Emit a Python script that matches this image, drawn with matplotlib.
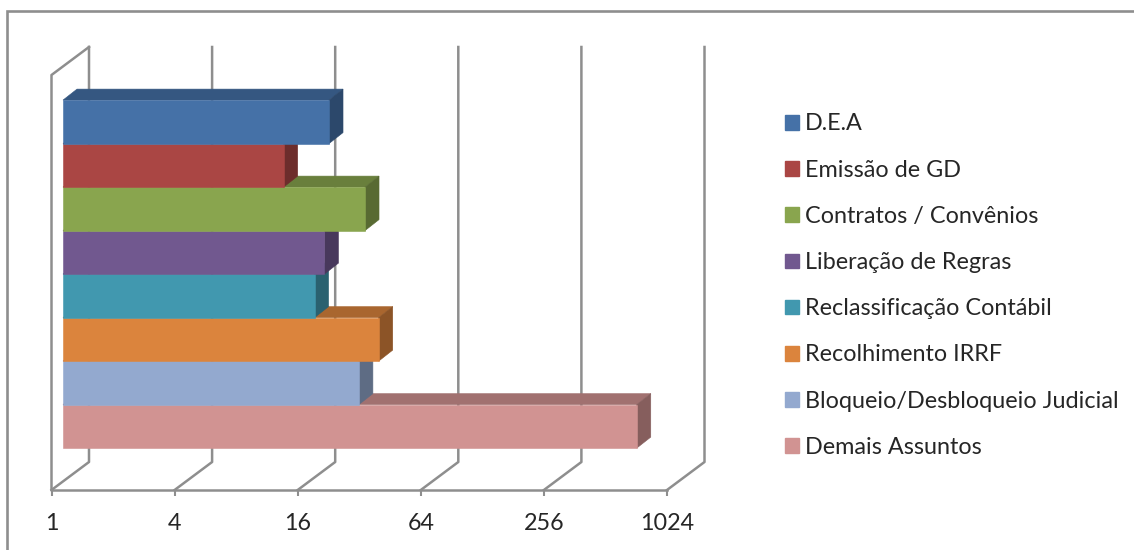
import matplotlib
matplotlib.use("Agg")
import matplotlib.pyplot as plt
from matplotlib.patches import Polygon, Patch, Rectangle
from matplotlib.lines import Line2D
from matplotlib.transforms import IdentityTransform
from matplotlib.colors import to_rgb

labels = ["D.E.A", "Emissão de GD", "Contratos / Convênios", "Liberação de Regras",
          "Reclassificação Contábil", "Recolhimento IRRF",
          "Bloqueio/Desbloqueio Judicial", "Demais Assuntos"]
values = [20, 12, 30, 19, 17, 35, 28, 640]
colors = ["#4571A7", "#AA4644", "#89A54E", "#71588F", "#4198AF", "#DB843D", "#93A9CF", "#D19392"]
ticks = [1, 4, 16, 64, 256, 1024]

W, H = 1134, 550
fig = plt.figure(figsize=(W / 100, H / 100), dpi=100, facecolor="white")
plt.rcParams["font.family"] = "Lato"
GRAY = "#8E8E8E"
TEXT = "#262626"

# front plane of the 3-D box, in pixels
L, R, T, B = 51.5, 667.0, 75.0, 490.0
ax = fig.add_axes([L / W, 1 - B / H, (R - L) / W, (B - T) / H])
ax.set_xscale("log", base=2)
ax.set_xlim(1, 1024)
ax.set_ylim(8.27, -1.27)
ax.patch.set_alpha(0)
for s in ["top", "right", "left"]:
    ax.spines[s].set_visible(False)
ax.spines["bottom"].set_color(GRAY)
ax.spines["bottom"].set_linewidth(1.8)
ax.set_xticks(ticks)
ax.set_xticklabels([str(t) for t in ticks], fontsize=16.8, color=TEXT)
ax.minorticks_off()
ax.tick_params(axis="x", length=4.5, width=1.5, color=GRAY, pad=12.2)
ax.set_yticks([])

px = IdentityTransform()
def to_px(x, y):
    return ax.transData.transform((x, y))

def seg(pts, lw=1.8, color=GRAY, z=1):
    xs, ys = zip(*pts)
    fig.add_artist(Line2D(xs, ys, transform=px, color=color, lw=lw, zorder=z,
                          solid_capstyle="projecting"))

# chart frame
fig.add_artist(Rectangle((7, -10), W + 20, H + 10 - 11, transform=px, fill=False,
                         edgecolor=GRAY, lw=1.9, zorder=0))

# walls and floor
BX, BY = 37.5, 28.0
ylo, yhi = ax.get_ylim()
for t in ticks:
    fb = to_px(t, ylo)
    back = (fb[0] + BX, fb[1] + BY)
    backtop = (back[0], to_px(t, yhi)[1] + BY)
    seg([fb, back, backtop])
fl, ft = to_px(1, ylo), to_px(1, yhi)
seg([fl, ft, (ft[0] + BX, ft[1] + BY)])

# bars: front face offset into the box, then depth faces
OX, OY = 11.5, 8.4
DX, DY = 14.0, 11.0
def shade(c, f):
    return tuple(v * f for v in to_rgb(c))

for i in range(len(values) - 1, -1, -1):
    v, c = values[i], colors[i]
    x0, yb = to_px(1, i + 0.5)
    x1, yt = to_px(v, i - 0.5)
    x0 += OX; x1 += OX; yb += OY; yt += OY
    faces = [
        ([(x0, yt), (x1, yt), (x1 + DX, yt + DY), (x0 + DX, yt + DY)], shade(c, 0.77)),
        ([(x1, yb), (x1 + DX, yb + DY), (x1 + DX, yt + DY), (x1, yt)], shade(c, 0.64)),
        ([(x0, yb), (x1, yb), (x1, yt), (x0, yt)], c),
    ]
    for pts, col in faces:
        fig.add_artist(Polygon(pts, closed=True, transform=px, facecolor=col,
                               edgecolor=col, lw=0.4, zorder=2))

# legend
handles = [Patch(facecolor=c, edgecolor=c, label=l) for c, l in zip(colors, labels)]
leg = fig.legend(handles=handles, loc="upper left", bbox_to_anchor=(785 / W, 1 - 113.5 / H),
                 frameon=False, fontsize=16.8, labelcolor=TEXT, handlelength=0.58,
                 handleheight=0.58, handletextpad=0.27, labelspacing=1.08,
                 borderaxespad=0, borderpad=0)

fig.savefig("out.png", dpi=100, facecolor="white")
